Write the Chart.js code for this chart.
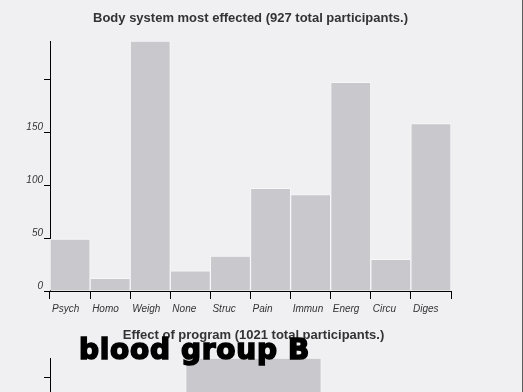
<!DOCTYPE html>
<html>
<head>
<meta charset="utf-8">
<script src="https://cdn.jsdelivr.net/npm/chart.js@4"></script>
<style>
  html, body { margin: 0; padding: 0; }
  #page { position: relative; width: 523px; height: 392px; overflow: hidden; background: #f0f0f2; }
  #page canvas { position: absolute; left: 0; }
  #edge { position: absolute; left: 522px; top: 0; width: 1px; height: 392px; background: #5c5c5c; }
  #stamp {
    position: absolute; left: 79px; top: 336px;
    font: bold 28px "DejaVu Sans", sans-serif; line-height: 28px; letter-spacing: 0.7px;
    color: #000; -webkit-text-stroke: 1.6px #000; white-space: nowrap; z-index: 5;
  }
</style>
</head>
<body>
<div id="page">
  <canvas id="body" width="523" height="317" style="top:0"></canvas>
  <canvas id="effect" width="523" height="317" style="top:317px"></canvas>
  <div id="stamp">blood group B</div>
  <div id="edge"></div>
</div>
<script>
// body systems chart
const bodyTitle = "Body system most effected (927 total participants.)";
const bodyCategories = ["Psych", "Homo", "Weigh", "None", "Struc", "Pain", "Immun", "Energ", "Circu", "Diges"];
const bodyCounts = [49, 12, 236, 19, 33, 97, 91, 197, 30, 158];
const bodyTickLabels = ["0", "50", "100", "150", ""];

// program effect chart (mostly below the fold)
const effectTitle = "Effect of program (1021 total participants.)";
const effectCategories = ["Worse", "Better", "None"];
const effectCounts = [52, 650, 319];
const effectTickLabels = ["0", "100", "200", "300", "400", "500", ""];

const barFill = "#c8c8cd";
const barGap = "#f7f7f9";

function makeChart(id, title, labels, values, max, step, tickLabels, rightPad) {
  const context = document.querySelector(id).getContext("2d");
  return new Chart(context, {
    type: "bar",
    data: {
      labels: labels,
      datasets: [
        {
          data: values,
          backgroundColor: barFill,
          borderColor: barGap,
          borderWidth: { top: 1, left: 1, right: 1, bottom: 0 },
          borderSkipped: false,
          barPercentage: 1,
          categoryPercentage: 1,
        },
      ],
    },
    options: {
      responsive: false,
      animation: false,
      layout: { padding: { left: 0, right: rightPad, top: 0, bottom: 0 } },
      plugins: {
        legend: { display: false },
        tooltip: { enabled: false },
        title: {
          display: true,
          text: title,
          fullSize: false,
          color: "#333",
          font: { family: "'Liberation Sans', Arial, sans-serif", size: 13, weight: "bold" },
          padding: { top: 11, bottom: 14.4 },
        },
      },
      scales: {
        x: {
          offset: true,
          afterFit: (scale) => { scale.height = 26; },
          border: { color: "#000", width: 1 },
          grid: { drawOnChartArea: false, drawTicks: true, tickLength: 8, color: "#000", offset: true },
          ticks: {
            align: "start",
            labelOffset: -18,
            padding: 4,
            color: "#333",
            font: { family: "'Liberation Sans', Arial, sans-serif", size: 10, style: "italic" },
          },
        },
        y: {
          min: 0,
          max: max,
          afterFit: (scale) => { scale.width = 50; },
          border: { color: "#000", width: 1 },
          grid: { drawOnChartArea: false, drawTicks: true, tickLength: 6, color: "#000" },
          ticks: {
            stepSize: step,
            includeBounds: false,
            padding: 1,
            labelOffset: -5,
            color: "#333",
            font: { family: "'Liberation Sans', Arial, sans-serif", size: 10, style: "italic" },
            callback: (value, index) => tickLabels[index],
          },
        },
      },
    },
  });
}

makeChart("#body", bodyTitle, bodyCategories, bodyCounts, 236, 50, bodyTickLabels, 72);
makeChart("#effect", effectTitle, effectCategories, effectCounts, 650, 100, effectTickLabels, 66);
</script>
</body>
</html>
